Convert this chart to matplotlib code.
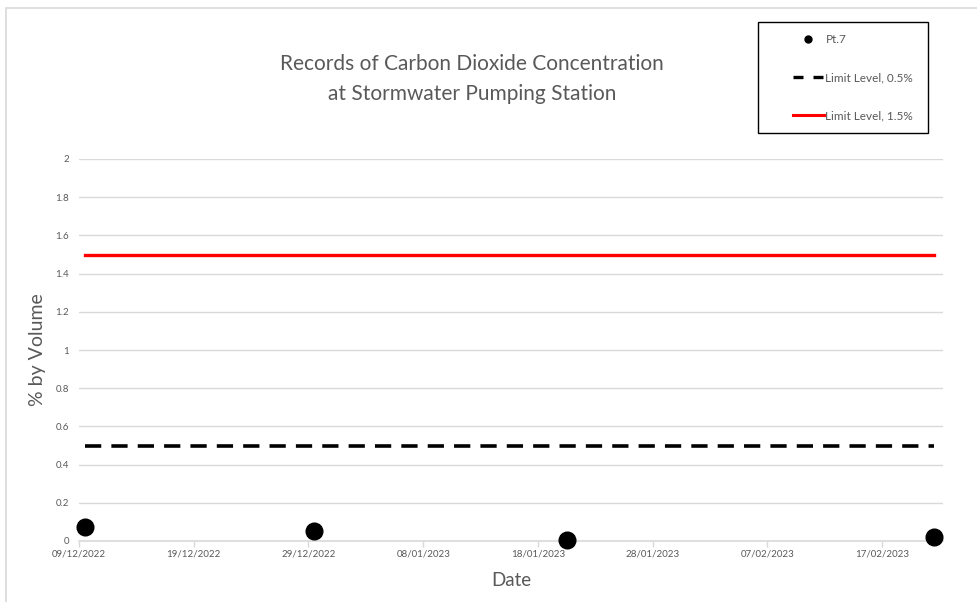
import matplotlib
matplotlib.use("Agg")
import matplotlib.pyplot as plt
import matplotlib.dates as mdates
from matplotlib.lines import Line2D
from matplotlib.patches import Rectangle
import numpy as np
import datetime as dt

# ---- data ----
dates = ["2022-12-09", "2022-12-29", "2023-01-20", "2023-02-21"]
pt7 = [0.073, 0.053, 0.003, 0.02]
limit_low = 0.5
limit_high = 1.5
tick_dates = ["2022-12-09", "2022-12-19", "2022-12-29", "2023-01-08",
              "2023-01-18", "2023-01-28", "2023-02-07", "2023-02-17"]
y_ticks = [0, 0.2, 0.4, 0.6, 0.8, 1, 1.2, 1.4, 1.6, 1.8, 2]

plt.rcParams['font.family'] = ['Lato', 'DejaVu Sans']
gray = '#595959'
grid = '#d9d9d9'

fig = plt.figure(figsize=(9.77, 6.02), dpi=100)
ax = fig.add_axes([79/977, 1-541/602, (943-79)/977, (541-159)/602])

d = [dt.datetime.strptime(s, "%Y-%m-%d") + dt.timedelta(hours=12) for s in dates]
tks = [dt.datetime.strptime(s, "%Y-%m-%d") for s in tick_dates]

ax.plot(d, [limit_high]*len(d), color='#ff0000', lw=2.4, zorder=3, label='Limit Level, 1.5%')
ax.plot(d, [limit_low]*len(d), color='black', lw=2.6, ls=(0, (4.5, 2.8)), zorder=3, label='Limit Level, 0.5%')
ax.plot(d, pt7, 'o', color='black', ms=12, zorder=4, clip_on=False, label='Pt.7')

ax.set_xlim(tks[0], tks[0] + dt.timedelta(days=75.3))
ax.set_ylim(0, 2)
ax.set_xticks(tks)
ax.xaxis.set_major_formatter(mdates.DateFormatter("%d/%m/%Y"))
ax.set_yticks(y_ticks)
ax.set_yticklabels([f"{v:g}" for v in y_ticks])
ax.grid(axis='y', color=grid, lw=1)
ax.set_axisbelow(True)
for s in ['top', 'right', 'left']:
    ax.spines[s].set_visible(False)
ax.spines['bottom'].set_color(grid)
ax.spines['bottom'].set_linewidth(1.2)
ax.tick_params(axis='x', colors=grid, labelcolor=gray, labelsize=7, length=4, width=1, pad=2)
ax.tick_params(axis='y', length=0, labelcolor=gray, labelsize=7, pad=7)

ax.set_xlabel("Date", fontsize=13.5, color=gray, labelpad=10)
ax.set_ylabel("% by Volume", fontsize=14, color=gray)
ax.yaxis.set_label_coords((46 - 79) / 864, 0.5)

fig.text(472/977, 1-79/602, "Records of Carbon Dioxide Concentration\nat Stormwater Pumping Station",
         ha='center', va='center', fontsize=15, color=gray, linespacing=1.6)

# legend box
fig.patches.append(Rectangle((758/977, 1-133/602), 170/977, 111/602, transform=fig.transFigure,
                             fill=False, edgecolor='black', lw=1.0))
handles = [Line2D([], [], marker='o', color='black', ls='none', ms=5),
           Line2D([], [], color='black', lw=2.4, ls=(0, (3, 3))),
           Line2D([], [], color='#ff0000', lw=2.2)]
labels = ['Pt.7', 'Limit Level, 0.5%', 'Limit Level, 1.5%']
leg = fig.legend(handles, labels, loc='upper left', bbox_to_anchor=(793/977, 1-34/602),
                 frameon=False, fontsize=8.5, labelspacing=2.3, handlelength=2.6,
                 handletextpad=0.15, borderpad=0, borderaxespad=0)
for t in leg.get_texts():
    t.set_color(gray)

# outer chart border
fig.patches.append(Rectangle((6/977, -0.1), 1.1, 1-8/602+0.1, transform=fig.transFigure,
                             fill=False, edgecolor='#d9d9d9', lw=1.2))

fig.savefig("out.png", dpi=100)
